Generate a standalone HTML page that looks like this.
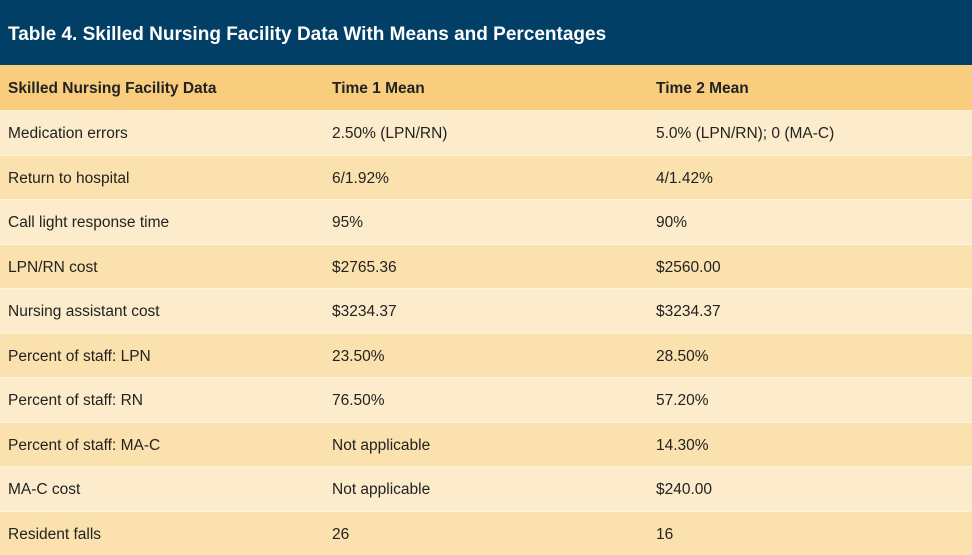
<!DOCTYPE html>
<html><head><meta charset="utf-8"><style>
body{margin:0;width:972px;height:555px;overflow:hidden;font-family:"Liberation Sans",Arial,sans-serif;}
.title{position:absolute;left:0;top:0;width:972px;height:65px;background:#013f66;color:#fff;font-size:19px;font-weight:bold;box-sizing:border-box;padding:24px 0 0 8px;}
.row{position:absolute;left:0;width:972px;height:44.5px;font-size:15.5px;color:#222;border-top:1px solid #fff3dc;box-sizing:border-box;}
.row span{position:absolute;top:14px;}
.c1{left:8px}.c2{left:332px}.c3{left:656px}
.hdr{background:#f8cd7e;font-weight:bold;border-top:none;}
.hdr span{top:15px}
.a{background:#fdeccb}.b{background:#fbe1ad}
</style></head><body>
<div class="title">Table 4. Skilled Nursing Facility Data With Means and Percentages</div>
<div class="row hdr" style="top:65px"><span class="c1">Skilled Nursing Facility Data</span><span class="c2">Time 1 Mean</span><span class="c3">Time 2 Mean</span></div>
<div class="row a" style="top:110px"><span class="c1">Medication errors</span><span class="c2">2.50% (LPN/RN)</span><span class="c3">5.0% (LPN/RN); 0 (MA-C)</span></div>
<div class="row b" style="top:154.5px"><span class="c1">Return to hospital</span><span class="c2">6/1.92%</span><span class="c3">4/1.42%</span></div>
<div class="row a" style="top:199px"><span class="c1">Call light response time</span><span class="c2">95%</span><span class="c3">90%</span></div>
<div class="row b" style="top:243.5px"><span class="c1">LPN/RN cost</span><span class="c2">$2765.36</span><span class="c3">$2560.00</span></div>
<div class="row a" style="top:288px"><span class="c1">Nursing assistant cost</span><span class="c2">$3234.37</span><span class="c3">$3234.37</span></div>
<div class="row b" style="top:332.5px"><span class="c1">Percent of staff: LPN</span><span class="c2">23.50%</span><span class="c3">28.50%</span></div>
<div class="row a" style="top:377px"><span class="c1">Percent of staff: RN</span><span class="c2">76.50%</span><span class="c3">57.20%</span></div>
<div class="row b" style="top:421.5px"><span class="c1">Percent of staff: MA-C</span><span class="c2">Not applicable</span><span class="c3">14.30%</span></div>
<div class="row a" style="top:466px"><span class="c1">MA-C cost</span><span class="c2">Not applicable</span><span class="c3">$240.00</span></div>
<div class="row b" style="top:510.5px"><span class="c1">Resident falls</span><span class="c2">26</span><span class="c3">16</span></div>
</body></html>
